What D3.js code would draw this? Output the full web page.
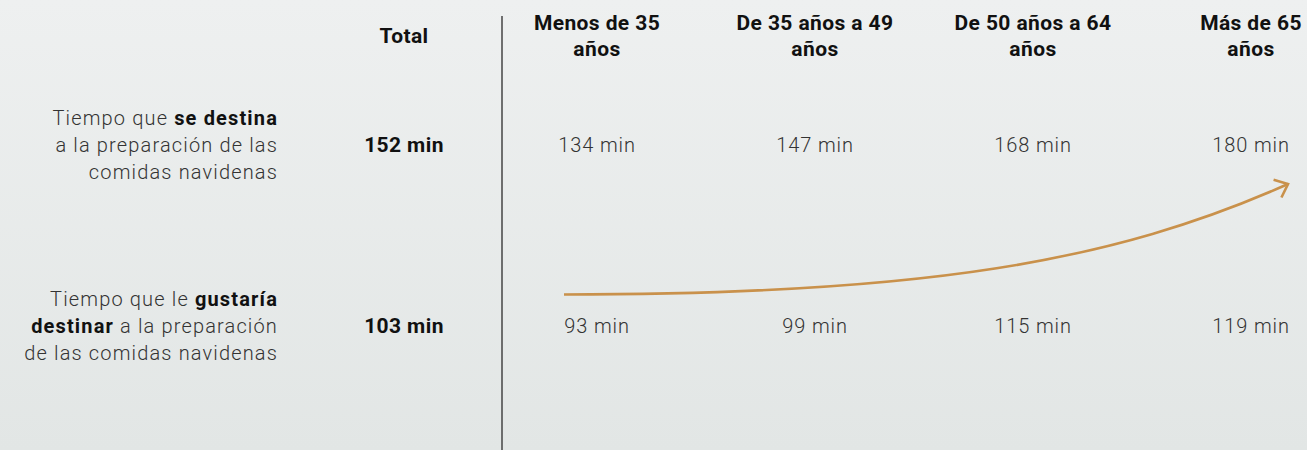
<!DOCTYPE html>
<html>
<head>
<meta charset="utf-8">
<script src="https://cdn.jsdelivr.net/npm/d3@7"></script>
<style>
    body { margin: 0; }
    svg { display: block; font-family: Roboto, 'Noto Sans', sans-serif; }
</style>
</head>
<body>
<svg width="1307" height="450"></svg>
<script>
// age groups, each header broken in two lines
const groups = ['Menos de 35 años', 'De 35 años a 49 años', 'De 50 años a 64 años', 'Más de 65 años']
const groupLines = [['Menos de 35', 'años'], ['De 35 años a 49', 'años'], ['De 50 años a 64', 'años'], ['Más de 65', 'años']]

const rows = ['destina', 'gustaria']
const totals = [152, 103]
const destina = [134, 147, 168, 180]
const gustaria = [93, 99, 115, 119]

// row labels: lines made of [text, bold?] pieces
const rowLabels = [
    [[['Tiempo que ', false], ['se destina', true]],
     [['a la preparación de las', false]],
     [['comidas navidenas', false]]],
    [[['Tiempo que le ', false], ['gustaría', true]],
     [['destinar', true], [' a la preparación', false]],
     [['de las comidas navidenas', false]]]
]

// decorative trend arrow, cubic control points in 0..1 units
const arrowPts = [[0, 0], [0.5, 0], [0.76, 0.3], [1, 1]]

let svg = d3.select('svg'),
    width = +svg.attr('width'),
    height = +svg.attr('height')

let defs = svg.append('defs')
let grad = defs.append('linearGradient')
    .attr('id', 'bg')
    .attr('x1', 0).attr('y1', 0).attr('x2', 0).attr('y2', 1)
grad.append('stop').attr('offset', '0%').attr('stop-color', '#eef0f0')
grad.append('stop').attr('offset', '100%').attr('stop-color', '#e2e6e5')

svg.append('rect')
    .attr('width', width)
    .attr('height', height)
    .attr('fill', 'url(#bg)')

let x = d3.scalePoint().domain(groups).range([597, 1251])
let y = d3.scalePoint().domain(rows).range([152, 333])
let totalX = 404

// separator
svg.append('line')
    .attr('x1', 502).attr('x2', 502)
    .attr('y1', 16).attr('y2', height)
    .attr('stroke', '#444')
    .attr('stroke-width', 1.5)

// headers
svg.append('text')
    .attr('x', totalX)
    .attr('y', 43)
    .attr('text-anchor', 'middle')
    .attr('font-size', 21)
    .attr('font-weight', 700)
    .attr('letter-spacing', 0.4)
    .attr('fill', '#111')
    .text('Total')

let head = svg.append('g')
    .selectAll('text')
    .data(groups)
    .enter().append('text')
    .attr('text-anchor', 'middle')
    .attr('font-size', 21)
    .attr('font-weight', 700)
    .attr('letter-spacing', 0.4)
    .attr('fill', '#111')

head.selectAll('tspan')
    .data((d, i) => groupLines[i])
    .enter().append('tspan')
    .attr('x', function () { return x(d3.select(this.parentNode).datum()) })
    .attr('y', (d, i) => 30 + i * 26)
    .text(d => d)

// row labels
let label = svg.append('g')
    .selectAll('text')
    .data(rows)
    .enter().append('g')

label.each(function (r, ri) {
    let g = d3.select(this)
    rowLabels[ri].forEach((line, li) => {
        let t = g.append('text')
            .attr('x', 278)
            .attr('y', y(r) + (li - 1) * 27.3)
            .attr('text-anchor', 'end')
            .attr('font-size', 20)
            .attr('letter-spacing', 1.15)
        t.selectAll('tspan')
            .data(line)
            .enter().append('tspan')
            .attr('font-weight', d => d[1] ? 700 : 300)
            .attr('fill', d => d[1] ? '#111' : '#333')
            .text(d => d[0])
    })
})

// totals
svg.append('g')
    .selectAll('text')
    .data(totals)
    .enter().append('text')
    .attr('x', totalX)
    .attr('y', (d, i) => y(rows[i]))
    .attr('text-anchor', 'middle')
    .attr('font-size', 21)
    .attr('font-weight', 700)
    .attr('letter-spacing', 0.4)
    .attr('fill', '#111')
    .text(d => d + ' min')

// values per age group
let series = [destina, gustaria]
series.forEach((vals, ri) => {
    svg.append('g')
        .selectAll('text')
        .data(vals)
        .enter().append('text')
        .attr('x', (d, i) => x(groups[i]))
        .attr('y', y(rows[ri]))
        .attr('text-anchor', 'middle')
        .attr('font-size', 20)
        .attr('font-weight', 300)
        .attr('letter-spacing', 0.9)
        .attr('fill', '#333')
        .text(d => d + ' min')
})

// arrow
let ax = d3.scaleLinear().domain([0, 1]).range([564, 1288])
let ay = d3.scaleLinear().domain([0, 1]).range([294.5, 184])
let p = arrowPts.map(d => [ax(d[0]), ay(d[1])])

let path = d3.path()
path.moveTo(p[0][0], p[0][1])
path.bezierCurveTo(p[1][0], p[1][1], p[2][0], p[2][1], p[3][0], p[3][1])

let arrowColor = '#c9914b'
svg.append('path')
    .attr('d', path.toString())
    .attr('fill', 'none')
    .attr('stroke', arrowColor)
    .attr('stroke-width', 2.6)

let ang = Math.atan2(p[3][1] - p[2][1], p[3][0] - p[2][0])
let len = 15, spread = 40 * Math.PI / 180
let head1 = [p[3][0] - len * Math.cos(ang - spread), p[3][1] - len * Math.sin(ang - spread)]
let head2 = [p[3][0] - len * Math.cos(ang + spread), p[3][1] - len * Math.sin(ang + spread)]

svg.append('path')
    .attr('d', d3.line()([head1, p[3], head2]))
    .attr('fill', 'none')
    .attr('stroke', arrowColor)
    .attr('stroke-width', 2.6)
    .attr('stroke-linejoin', 'miter')
</script>
</body>
</html>
